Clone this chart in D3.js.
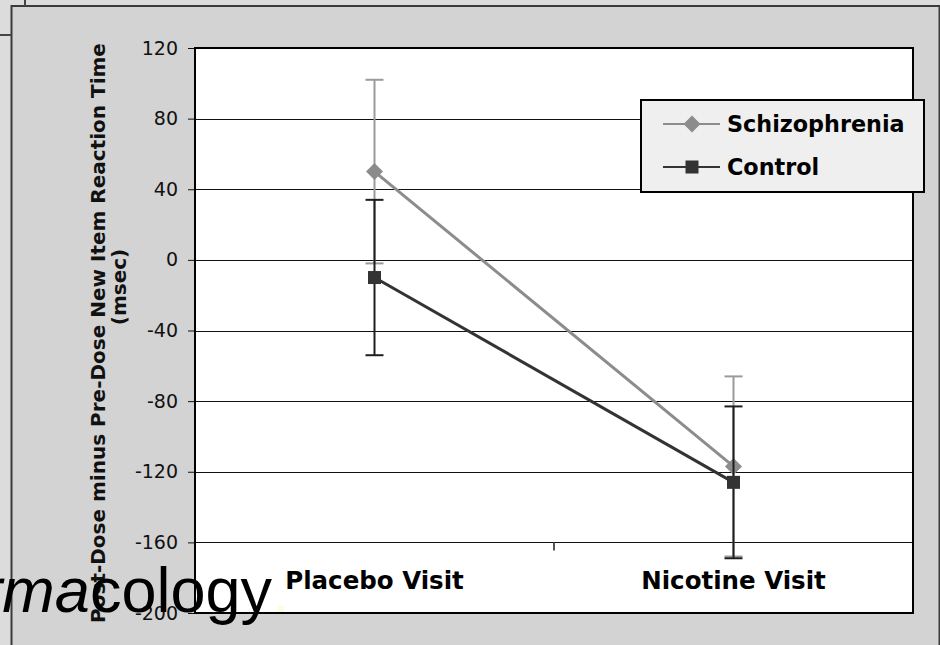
<!DOCTYPE html>
<html>
<head>
<meta charset="utf-8">
<script src="https://cdn.jsdelivr.net/npm/d3@7/dist/d3.min.js"></script>
<style>
  html, body { margin: 0; padding: 0; background: #dcdcdc; }
  svg { display: block; }
</style>
</head>
<body>
<svg id="chart" width="940" height="645"></svg>
<script>
// Visits on the category axis
const visits = ["Placebo Visit", "Nicotine Visit"];
const seriesNames = ["Schizophrenia", "Control"];
// Mean change (post-dose minus pre-dose), msec
const schizophrenia = [50, -117];
const control = [-10, -126];
// Error bar half-widths, msec
const schizophreniaErr = [52, 51];
const controlErr = [44, 43];
// Value axis ticks
const yTicks = [120, 80, 40, 0, -40, -80, -120, -160, -200];

const svg = d3.select("#chart");
const W = 940, H = 645;
const plot = { left: 195, top: 48, right: 913, bottom: 613 };
const FONT = "DejaVu Sans, Verdana, sans-serif";

// outer page background and chart frame
svg.append("rect").attr("width", W).attr("height", H).attr("fill", "#dcdcdc");
svg.append("rect").attr("x", 11.5).attr("y", 6).attr("width", 928).attr("height", 650)
  .attr("fill", "#d3d3d3").attr("stroke", "#3a3a3a").attr("stroke-width", 2);
svg.append("line").attr("x1", 25).attr("x2", 25).attr("y1", 0).attr("y2", 6)
  .attr("stroke", "#444").attr("stroke-width", 2);
svg.append("line").attr("x1", 0).attr("x2", 11).attr("y1", 35).attr("y2", 35)
  .attr("stroke", "#444").attr("stroke-width", 2);

const x = d3.scalePoint().domain(visits).range([plot.left, plot.right]).padding(0.5);
const y = d3.scaleLinear().domain([-200, 120]).range([plot.bottom, plot.top]);

// plot area
svg.append("rect").attr("x", plot.left).attr("y", plot.top)
  .attr("width", plot.right - plot.left).attr("height", plot.bottom - plot.top)
  .attr("fill", "#fff");

// horizontal gridlines
svg.append("g").selectAll("line").data(yTicks.filter(t => t > -200 && t < 120)).join("line")
  .attr("x1", plot.left).attr("x2", plot.right)
  .attr("y1", d => Math.round(y(d)) + 0.5).attr("y2", d => Math.round(y(d)) + 0.5)
  .attr("stroke", "#111").attr("stroke-width", 1);

// y axis (plain hyphen for negatives)
const yAxis = d3.axisLeft(y).tickValues(yTicks).tickSize(7).tickPadding(10).tickFormat(d => String(d));
const gy = svg.append("g").attr("transform", `translate(${plot.left},0)`).call(yAxis);
gy.select(".domain").remove();
gy.selectAll(".tick line").attr("stroke", "#111");
gy.selectAll(".tick text").attr("font-family", FONT)
  .attr("font-size", 19).attr("fill", "#111");

// category separator tick
const midX = (x(visits[0]) + x(visits[1])) / 2;
svg.append("line").attr("x1", midX).attr("x2", midX)
  .attr("y1", y(-160)).attr("y2", y(-160) + 8).attr("stroke", "#555").attr("stroke-width", 2);

// plot border
svg.append("rect").attr("x", plot.left).attr("y", plot.top)
  .attr("width", plot.right - plot.left).attr("height", plot.bottom - plot.top)
  .attr("fill", "none").attr("stroke", "#000").attr("stroke-width", 2);

// category labels
svg.append("g").selectAll("text").data(visits).join("text")
  .attr("x", d => x(d)).attr("y", 589).attr("text-anchor", "middle")
  .attr("font-family", FONT).attr("font-weight", "bold")
  .attr("font-size", 24.5).attr("fill", "#000").text(d => d);

// y axis title, two lines
const title = svg.append("text").attr("transform", "rotate(-90)")
  .attr("text-anchor", "middle").attr("font-family", FONT)
  .attr("font-weight", "bold").attr("font-size", 20).attr("fill", "#111");
title.append("tspan").attr("x", -333).attr("y", 105).text("Post-Dose minus Pre-Dose New Item Reaction Time");
title.append("tspan").attr("x", -287).attr("y", 126).text("(msec)");

const series = [
  { name: seriesNames[0], values: schizophrenia, err: schizophreniaErr, color: "#8c8c8c", errColor: "#9a9a9a", marker: "diamond" },
  { name: seriesNames[1], values: control, err: controlErr, color: "#333333", errColor: "#1e1e1e", marker: "square" }
];

function drawMarker(g, type, color) {
  if (type === "diamond") {
    g.append("path").attr("d", "M0,-8.5 L8.5,0 L0,8.5 L-8.5,0 Z").attr("fill", color);
  } else {
    g.append("rect").attr("x", -6.5).attr("y", -6.5).attr("width", 13).attr("height", 13).attr("fill", color);
  }
}

series.forEach(s => {
  const g = svg.append("g");
  // error bars
  s.values.forEach((v, i) => {
    const cx = x(visits[i]);
    const top = y(v + s.err[i]), bot = y(v - s.err[i]);
    g.append("line").attr("x1", cx).attr("x2", cx).attr("y1", top).attr("y2", bot)
      .attr("stroke", s.errColor).attr("stroke-width", 2);
    [top, bot].forEach(yy => g.append("line").attr("x1", cx - 9).attr("x2", cx + 9)
      .attr("y1", yy).attr("y2", yy).attr("stroke", s.errColor).attr("stroke-width", 2));
  });
  // connecting line
  g.append("path").datum(s.values)
    .attr("d", d3.line().x((d, i) => x(visits[i])).y(d => y(d)))
    .attr("fill", "none").attr("stroke", s.color).attr("stroke-width", 3);
  // markers
  s.values.forEach((v, i) => {
    drawMarker(g.append("g").attr("transform", `translate(${x(visits[i])},${y(v)})`), s.marker, s.color);
  });
});

// legend
const lg = svg.append("g");
lg.append("rect").attr("x", 641).attr("y", 100).attr("width", 283).attr("height", 92)
  .attr("fill", "#efefef").attr("stroke", "#000").attr("stroke-width", 2);
series.forEach((s, i) => {
  const ly = 124 + i * 43;
  lg.append("line").attr("x1", 663).attr("x2", 720).attr("y1", ly).attr("y2", ly)
    .attr("stroke", s.color).attr("stroke-width", 2);
  drawMarker(lg.append("g").attr("transform", `translate(692,${ly})`), s.marker, s.color);
  lg.append("text").attr("x", 727).attr("y", ly + 8)
    .attr("font-family", FONT).attr("font-weight", "bold")
    .attr("font-size", 22.3).attr("fill", "#000").text(s.name);
});

// journal name fragment overlapping the lower-left corner
const wm = svg.append("text").attr("x", 272).attr("y", 612).attr("text-anchor", "end")
  .attr("font-family", "Liberation Sans, Arial, sans-serif").attr("font-size", 63).attr("fill", "#000");
wm.append("tspan").attr("font-style", "italic").text("rma");
wm.append("tspan").text("cology");
svg.append("rect").attr("x", 278).attr("y", 606).attr("width", 6).attr("height", 6).attr("fill", "#fdfbe0");
</script>
</body>
</html>
